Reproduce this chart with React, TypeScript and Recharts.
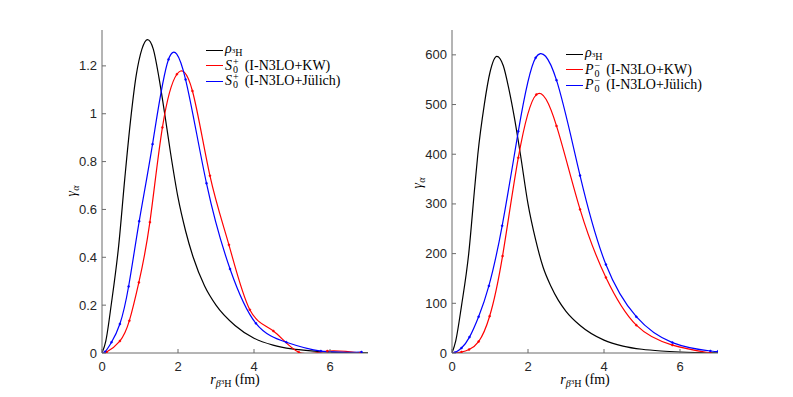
import React from "react";
import { Line, LineChart, XAxis, YAxis } from "recharts";

// r (fm) / value pairs
const R_TICKS = [0, 2, 4, 6];
const S_Y_TICKS = [0, 0.2, 0.4, 0.6, 0.8, 1, 1.2];
const P_Y_TICKS = [0, 100, 200, 300, 400, 500, 600];

const rho3H_S = [
  [0, 0], [0.1, 0.05], [0.25, 0.21], [0.44, 0.45], [0.6, 0.73], [0.75, 0.97],
  [0.9, 1.16], [1.05, 1.27], [1.2, 1.31], [1.35, 1.27], [1.5, 1.15], [1.65, 1.0],
  [1.8, 0.84], [2.0, 0.65], [2.2, 0.51], [2.4, 0.4], [2.7, 0.28], [3.0, 0.2],
  [3.5, 0.115], [4.0, 0.062], [4.5, 0.033], [5.0, 0.017], [5.5, 0.009], [6.0, 0.004],
  [7.0, 0.001],
];
const s0KW = [
  [0, 0], [0.12, 0.004], [0.47, 0.05], [0.72, 0.135], [0.97, 0.295], [1.26, 0.547],
  [1.59, 0.943], [1.97, 1.165], [2.38, 1.095], [2.84, 0.741], [3.34, 0.452],
  [3.89, 0.181], [4.51, 0.092], [5.18, 0.003], [5.93, 0.008], [6.8, 0],
];
const s0Julich = [
  [0, 0], [0.08, 0.005], [0.25, 0.045], [0.47, 0.121], [0.7, 0.278], [0.98, 0.551],
  [1.33, 0.873], [1.75, 1.227], [2.2, 1.143], [2.75, 0.709], [3.37, 0.351],
  [4.05, 0.124], [4.85, 0.045], [5.76, 0.008], [6.83, 0.004],
];

const rho3H_P = [
  [0, 0], [0.1, 25], [0.25, 95], [0.44, 200], [0.6, 335], [0.68, 400], [0.85, 500],
  [1.0, 565], [1.18, 597], [1.35, 578], [1.5, 530], [1.65, 470], [1.8, 400],
  [2.0, 300], [2.2, 228], [2.4, 172], [2.6, 135], [2.8, 106], [3.0, 84], [3.38, 55],
  [4.0, 26], [4.5, 14], [5.0, 7.5], [5.5, 4], [6.0, 2], [7.0, 0.5],
];
const p0KW = [
  [0, 0], [0.08, 0], [0.25, 2], [0.45, 7], [0.7, 23], [0.99, 74], [1.33, 195],
  [1.745, 393], [2.22, 520], [2.75, 457], [3.37, 289], [4.05, 152], [4.85, 56],
  [5.8, 16], [6.8, 0],
];
const p0Julich = [
  [0, 0], [0.08, 1], [0.25, 10], [0.46, 32], [0.7, 73], [0.97, 135], [1.32, 256],
  [1.745, 446], [2.2, 594], [2.75, 549], [3.37, 357], [4.05, 178], [4.85, 73],
  [5.8, 21], [6.8, 4], [7.0, 3.5],
];

const pts = (rows: number[][]) => rows.map(([r, v]) => ({ r, v }));

const SERIF = '"Liberation Serif", "DejaVu Serif", serif';
const SANS = '"Liberation Sans", Arial, sans-serif';
const AXIS = "#6b6b6b";
const LABEL = "#262626";
const TICK_LEN = 4;
const GAP = 5;
const XGAP = 9;

const mkLeftTick = (fmt: (v: number) => string) => (p: any) => (
  <g>
    <line x1={p.x + GAP} x2={p.x + GAP + TICK_LEN} y1={p.y} y2={p.y} stroke={AXIS} />
    <text
      x={p.x}
      y={p.y}
      textAnchor="end"
      dominantBaseline="central"
      fontFamily={SANS}
      fontSize={13}
      fill={LABEL}
    >
      {fmt(p.payload.value)}
    </text>
  </g>
);

const BottomTick = (p: any) => (
  <g>
    <line x1={p.x} x2={p.x} y1={p.y - XGAP} y2={p.y - XGAP - TICK_LEN} stroke={AXIS} />
    <text
      x={p.x}
      y={p.y}
      dy="0.72em"
      textAnchor="middle"
      fontFamily={SANS}
      fontSize={13}
      fill={LABEL}
    >
      {p.payload.value}
    </text>
  </g>
);

const TopTick = (p: any) => (
  <line x1={p.x} x2={p.x} y1={p.y} y2={p.y + TICK_LEN} stroke={AXIS} />
);

const RightTick = (p: any) => (
  <line x1={p.x} x2={p.x - TICK_LEN} y1={p.y} y2={p.y} stroke={AXIS} />
);

// stacked super/subscript, e.g. S_0^+
function Scripts({ sup, sub }: { sup: string; sub: string }) {
  return (
    <span
      style={{
        display: "inline-flex",
        flexDirection: "column",
        alignItems: "flex-start",
        fontSize: 10,
        lineHeight: "8px",
        verticalAlign: 5,
        marginLeft: 1,
      }}
    >
      <span>{sup}</span>
      <span>{sub}</span>
    </span>
  );
}

const Rho = () => (
  <span>
    <i>ρ</i>
    <span style={{ fontSize: 10, position: "relative", top: 3 }}>
      <span style={{ fontSize: 7, position: "relative", top: -3.5 }}>3</span>H
    </span>
  </span>
);

interface LegendRow {
  color: string;
  label: React.ReactNode;
}

function Legend({ x, y, rows }: { x: number; y: number; rows: LegendRow[] }) {
  return (
    <>
      {rows.map((row, i) => (
        <div
          key={i}
          style={{
            position: "absolute",
            left: x,
            top: y + i * 15.5 - 7,
            height: 14,
            display: "flex",
            alignItems: "center",
            whiteSpace: "nowrap",
          }}
        >
          <span
            style={{
              width: 17,
              height: 0,
              borderTop: `1.3px solid ${row.color}`,
              marginRight: 2,
            }}
          />
          <span style={{ fontFamily: SERIF, fontSize: 14, lineHeight: "14px", color: "#000" }}>
            {row.label}
          </span>
        </div>
      ))}
    </>
  );
}

const XLabel = ({ cx }: { cx: number }) => (
  <div
    style={{
      position: "absolute",
      left: cx,
      top: 372,
      transform: "translateX(-50%)",
      fontFamily: SERIF,
      fontSize: 14,
      lineHeight: "16px",
      whiteSpace: "nowrap",
      color: "#000",
    }}
  >
    <i>r</i>
    <span style={{ fontSize: 10, position: "relative", top: 3 }}>
      <i>β</i>
      <span style={{ fontSize: 7, position: "relative", top: -3 }}>3</span>H
    </span>
    {"  (fm)"}
  </div>
);

const YLabel = ({ cx, cy }: { cx: number; cy: number }) => (
  <div
    style={{
      position: "absolute",
      left: cx,
      top: cy,
      transform: "translate(-50%, -50%) rotate(-90deg)",
      fontFamily: SERIF,
      fontSize: 14,
      lineHeight: "16px",
      whiteSpace: "nowrap",
      color: "#000",
    }}
  >
    <i>γ</i>
    <i style={{ fontSize: 10, position: "relative", top: 3 }}>α</i>
  </div>
);

interface PanelProps {
  left: number;
  width: number;
  marginLeft: number;
  marginRight: number;
  yMax: number;
  yTicks: number[];
  black: number[][];
  red: number[][];
  blue: number[][];
}

function Panel(p: PanelProps) {
  const fmt = (v: number) => String(v);
  return (
    <div style={{ position: "absolute", left: p.left, top: 0 }}>
      <LineChart
        width={p.width}
        height={397}
        margin={{ top: 30, right: p.marginRight, bottom: 14, left: p.marginLeft }}
      >
        <XAxis
          dataKey="r"
          type="number"
          domain={[0, 7]}
          ticks={R_TICKS}
          interval={0}
          allowDataOverflow
          height={30}
          tickSize={0}
          tickMargin={XGAP}
          tick={BottomTick}
          axisLine={{ stroke: AXIS }}
        />
        <XAxis
          xAxisId="top"
          orientation="top"
          dataKey="r"
          type="number"
          domain={[0, 7]}
          ticks={R_TICKS}
          interval={0}
          allowDataOverflow
          height={0}
          tickSize={0}
          tickMargin={0}
          tick={TopTick}
          axisLine={{ stroke: AXIS }}
        />
        <YAxis
          type="number"
          domain={[0, p.yMax]}
          ticks={p.yTicks}
          interval={0}
          allowDataOverflow
          width={50}
          tickSize={0}
          tickMargin={GAP}
          tick={mkLeftTick(fmt)}
          axisLine={{ stroke: AXIS }}
        />
        <YAxis
          yAxisId="right"
          orientation="right"
          type="number"
          domain={[0, p.yMax]}
          ticks={p.yTicks}
          interval={0}
          allowDataOverflow
          width={0}
          tickSize={0}
          tickMargin={0}
          tick={RightTick}
          axisLine={{ stroke: AXIS }}
        />
        <Line
          data={pts(p.black)}
          dataKey="v"
          type="monotone"
          stroke="#000000"
          strokeWidth={1.2}
          dot={false}
          isAnimationActive={false}
        />
        <Line
          data={pts(p.red)}
          dataKey="v"
          type="natural"
          stroke="#ff0000"
          strokeWidth={1.2}
          dot={{ r: 1, fill: "#ff0000", stroke: "#ff0000", strokeWidth: 0.5 }}
          isAnimationActive={false}
        />
        <Line
          data={pts(p.blue)}
          dataKey="v"
          type="natural"
          stroke="#0000ff"
          strokeWidth={1.2}
          dot={{ r: 1, fill: "#0000ff", stroke: "#0000ff", strokeWidth: 0.5 }}
          isAnimationActive={false}
        />
      </LineChart>
    </div>
  );
}

export default function App() {
  return (
    <div
      style={{
        position: "absolute",
        left: 0,
        top: 0,
        width: 793,
        height: 397,
        background: "#ffffff",
        overflow: "hidden",
      }}
    >
      <Panel
        left={0}
        width={400}
        marginLeft={52}
        marginRight={32}
        yMax={1.35}
        yTicks={S_Y_TICKS}
        black={rho3H_S}
        red={s0KW}
        blue={s0Julich}
      />
      <Panel
        left={400}
        width={393}
        marginLeft={2}
        marginRight={75}
        yMax={650}
        yTicks={P_Y_TICKS}
        black={rho3H_P}
        red={p0KW}
        blue={p0Julich}
      />

      <Legend
        x={206}
        y={50}
        rows={[
          { color: "#000000", label: <Rho /> },
          {
            color: "#ff0000",
            label: (
              <>
                <i>S</i>
                <Scripts sup="+" sub="0" />
                <span style={{ marginLeft: 6 }}>(I-N3LO+KW)</span>
              </>
            ),
          },
          {
            color: "#0000ff",
            label: (
              <>
                <i>S</i>
                <Scripts sup="+" sub="0" />
                <span style={{ marginLeft: 6 }}>(I-N3LO+Jülich)</span>
              </>
            ),
          },
        ]}
      />
      <Legend
        x={566}
        y={54}
        rows={[
          { color: "#000000", label: <Rho /> },
          {
            color: "#ff0000",
            label: (
              <>
                <i>P</i>
                <Scripts sup="−" sub="0" />
                <span style={{ marginLeft: 6 }}>(I-N3LO+KW)</span>
              </>
            ),
          },
          {
            color: "#0000ff",
            label: (
              <>
                <i>P</i>
                <Scripts sup="−" sub="0" />
                <span style={{ marginLeft: 6 }}>(I-N3LO+Jülich)</span>
              </>
            ),
          },
        ]}
      />

      <XLabel cx={235} />
      <XLabel cx={585} />
      <YLabel cx={72} cy={191} />
      <YLabel cx={418} cy={183} />
    </div>
  );
}
